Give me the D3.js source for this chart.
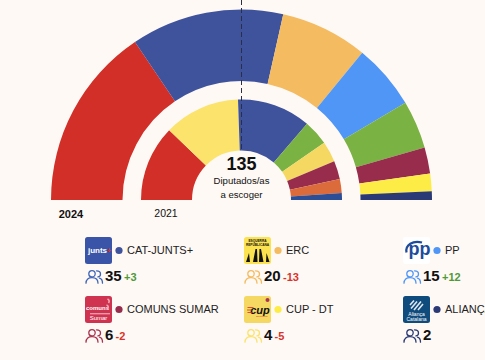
<!DOCTYPE html>
<html lang="en">
<head>
    <meta charset="UTF-8">
    <title>Parlament 2024</title>
    <script src="https://d3js.org/d3.v7.min.js"></script>
    <style>
        html, body {
            margin: 0;
            background: #fef9f5;
            overflow: hidden;
        }
        text {
            font-family: "Liberation Sans", sans-serif;
            fill: #111;
        }
    </style>
</head>
<body>
<script>
    const width = 485;
    const height = 360;

    // hemicycle, in seats
    const parties2024 = ["PSC", "CAT-JUNTS+", "ERC", "PP", "VOX", "COMUNS SUMAR", "CUP - DT", "ALIANÇA CATALANA"];
    const seats2024 = [42, 35, 20, 15, 11, 6, 4, 2];
    const colors2024 = ["#d12f27", "#3f529c", "#f4bb60", "#4f96f7", "#7ab244", "#972c4d", "#fdec45", "#2b3a75"];

    const parties2021 = ["PSC", "ERC", "JUNTS", "VOX", "CUP", "COMUNS", "CS", "PP"];
    const seats2021 = [33, 33, 32, 11, 9, 8, 6, 3];
    const colors2021 = ["#d12f27", "#fbe36c", "#3f529c", "#7ab244", "#f5d862", "#972c4d", "#dc6b3b", "#2b4e96"];

    const totalSeats = 135;

    // legend
    const legendParties = ["CAT-JUNTS+", "ERC", "PP", "COMUNS SUMAR", "CUP - DT", "ALIANÇA CATALANA"];
    const legendLogos = ["junts", "erc", "pp", "comuns", "cup", "alianca"];
    const legendSeats = [35, 20, 15, 6, 4, 2];
    const legendDelta = ["+3", "-13", "+12", "-2", "-5", ""];
    const legendColors = ["#3f529c", "#f4bb60", "#4f96f7", "#972c4d", "#fdec45", "#2b3a75"];
    const legendIconColors = ["#3f66b8", "#f4bb60", "#4f96f7", "#a8344f", "#fbe36c", "#2b3a75"];

    function box(g, fill) {
        g.append("rect").attr("width", 27).attr("height", 27).attr("rx", 2.5).attr("fill", fill);
    }

    function label(g, str, x, y, size, color, weight) {
        return g.append("text").attr("x", x).attr("y", y)
                .attr("text-anchor", "middle")
                .style("font-size", size + "px")
                .style("font-weight", weight)
                .style("fill", color)
                .text(str);
    }

    const drawLogo = {
        junts(g) {
            box(g, "#3a55a8");
            label(g, "junts", 12.5, 16, 8, "#fff", "bold");
            label(g, "+", 24, 16, 7, "#d12f27", "bold");
        },
        comuns(g) {
            box(g, "#cf3350");
            label(g, "comuns", 12.5, 14, 6, "#fff", "bold");
            g.append("rect").attr("x", 5).attr("y", 17.5).attr("width", 20).attr("height", .7).attr("fill", "#fff");
            label(g, "Sumar", 13.5, 24, 6, "#fff", "normal");
            g.append("path").attr("fill", "none").attr("stroke", "#f3a9b5").attr("stroke-width", 1.6)
                    .attr("d", "M22.5 3c2 1 2 2.500 1 4M21.500 9c1.500 .5 2 1.500 1.500 3");
        },
        erc(g) {
            box(g, "#fbe251");
            label(g, "ESQUERRA", 13.5, 5, 3.2, "#111", "bold");
            label(g, "REPUBLICANA", 13.5, 8.500, 3.2, "#111", "bold");
            g.append("path").attr("fill", "#111")
                    .attr("d", "M2 25l3-9 1 9zM9 25l2.500-13 1.500 0 .5 13zM15 25l.5-13 1.500 0 2.500 13zM22 25l.5-9 3 9z");
        },
        pp(g) {
            box(g, "#fff");
            g.append("path").attr("fill", "none").attr("stroke", "#1d4c9c").attr("stroke-width", 2.2)
                    .attr("d", "M3.500 15.500C2 8 10 3 19 5.500");
            label(g, "pp", 16.5, 18, 18, "#1d4c9c", "bold");
        },
        cup(g) {
            box(g, "#f5d862");
            label(g, "cup", 16, 17.5, 11, "#111", "bold").style("font-style", "italic");
            g.append("path").attr("stroke", "#d12f27").attr("stroke-width", .8)
                    .attr("d", "M3.500 11.500h6M3 14h5M3.500 16.500h6");
            g.append("circle").attr("cx", 23.5).attr("cy", 4).attr("r", 2).attr("fill", "#a8344f");
            label(g, "Defensem", 18, 21, 2.5, "#d12f27", "normal");
        },
        alianca(g) {
            box(g, "#0f4b7d");
            g.append("path").attr("stroke", "#dfe8ef").attr("stroke-width", 1.6).attr("fill", "none")
                    .attr("d", "M8 12.500l6-7M11 14l7-8.500M15 14l5-6M7 9l4-4.500");
            label(g, "Aliança", 13.5, 20, 5, "#fff", "normal");
            label(g, "Catalana", 13.5, 25, 5, "#fff", "normal");
        }
    };

    function drawPeople(g, color) {
        const p = g.append("g").attr("fill", "none").attr("stroke", color)
                .attr("stroke-width", 1.3).attr("stroke-linecap", "round");
        p.append("circle").attr("cx", 7).attr("cy", 3.8).attr("r", 3.2);
        p.append("path").attr("d", "M1 13.2c0-4 2.6-5.6 6-5.6s6 1.6 6 5.6");
        p.append("path").attr("d", "M11.5 .8c2.5 0 4 1.4 4 3.1s-1 2.8-2.6 3");
        p.append("path").attr("d", "M14.5 8.2c2 .5 3 2.3 3 5");
    }

    const svg = d3.select("body").append("svg")
            .attr("width", width).attr("height", height)
            .style("display", "block");

    const cx = 241.5, cy = 200;
    const pie = d3.pie().sort(null).startAngle(-Math.PI / 2).endAngle(Math.PI / 2);

    function drawRing(values, colors, inner, outer) {
        const arc = d3.arc().innerRadius(inner).outerRadius(outer);
        svg.append("g")
                .attr("transform", `translate(${cx},${cy})`)
                .selectAll("path")
                .data(pie(values))
                .enter()
                .append("path")
                .attr("d", arc)
                .attr("fill", (d, i) => colors[i]);
    }

    drawRing(seats2024, colors2024, 119, 190.5);
    drawRing(seats2021, colors2021, 49.5, 100.5);

    // majority line
    svg.append("line")
            .attr("x1", cx).attr("x2", cx)
            .attr("y1", 0).attr("y2", 151)
            .attr("stroke", "#2b2f45")
            .attr("stroke-width", 1)
            .attr("stroke-dasharray", "5,3");

    svg.append("text").attr("x", 241.5).attr("y", 169.5)
            .attr("text-anchor", "middle")
            .style("font-size", "18px").style("font-weight", "bold")
            .text(totalSeats);
    svg.append("text").attr("x", 241.5).attr("y", 184)
            .attr("text-anchor", "middle").style("font-size", "9.6px")
            .text("Diputados/as");
    svg.append("text").attr("x", 241.5).attr("y", 198)
            .attr("text-anchor", "middle").style("font-size", "9.6px")
            .text("a escoger");

    svg.append("text").attr("x", 71).attr("y", 218)
            .attr("text-anchor", "middle")
            .style("font-size", "11px").style("font-weight", "bold")
            .text("2024");
    svg.append("text").attr("x", 166).attr("y", 217)
            .attr("text-anchor", "middle").style("font-size", "10.5px")
            .text("2021");

    // legend cells
    const colX = d3.scalePoint().domain([0, 1, 2]).range([85, 403]);
    const rowY = d3.scalePoint().domain([0, 1]).range([237, 296]);

    const cells = svg.selectAll("g.cell")
            .data(legendParties)
            .enter()
            .append("g")
            .attr("class", "cell")
            .attr("transform", (d, i) => `translate(${colX(i % 3)},${rowY(Math.floor(i / 3))})`);

    cells.append("g").each(function(d, i) { drawLogo[legendLogos[i]](d3.select(this)); });

    cells.append("circle")
            .attr("cx", 34).attr("cy", 13.5).attr("r", 3.6)
            .attr("fill", (d, i) => legendColors[i]);

    cells.append("text")
            .attr("x", 42).attr("y", 17)
            .style("font-size", "11px")
            .style("fill", "#222")
            .text(d => d);

    cells.append("g")
            .attr("transform", "translate(0,33)")
            .each(function(d, i) { drawPeople(d3.select(this), legendIconColors[i]); });

    cells.append("text")
            .attr("x", 20).attr("y", 43.5)
            .style("font-size", "15px").style("font-weight", "bold")
            .text((d, i) => legendSeats[i]);

    cells.append("text")
            .attr("x", (d, i) => legendSeats[i] > 9 ? 39 : 30.5)
            .attr("y", 43.5)
            .style("font-size", "11px").style("font-weight", "bold")
            .style("fill", (d, i) => legendDelta[i][0] === "+" ? "#4f9a38" : "#d9332b")
            .text((d, i) => legendDelta[i]);
</script>
</body>
</html>
